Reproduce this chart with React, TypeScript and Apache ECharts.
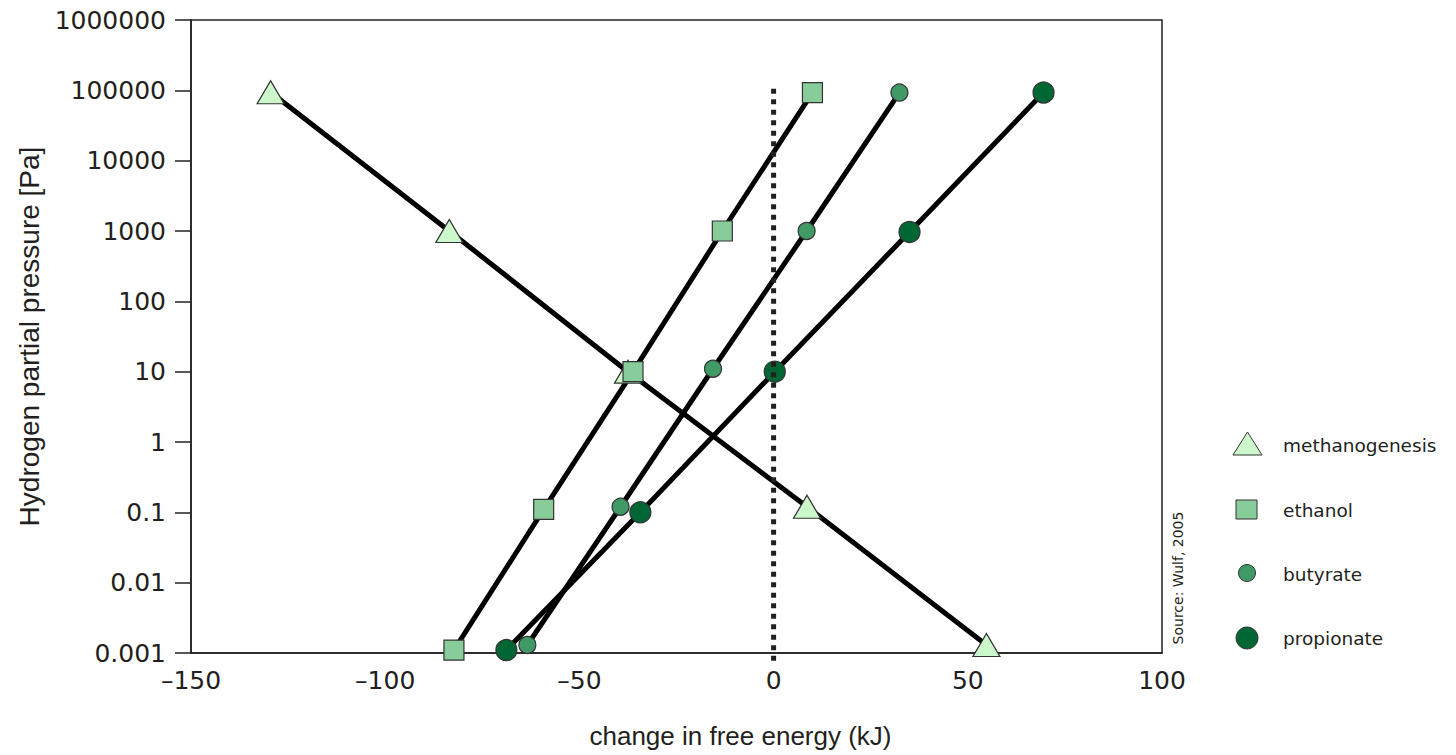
import React, { useEffect, useRef } from "react";
import * as echarts from "echarts";

// ---- data ----
const seriesNames = ["methanogenesis", "ethanol", "butyrate", "propionate"];

const methanogenesisX = [-129.5, -83.5, -37.5, 8.6, 54.8];
const methanogenesisY = [94000, 1000, 10, 0.12, 0.0013];

const ethanolX = [10, -13.2, -36.2, -59.2, -82.3];
const ethanolY = [93000, 1000, 10, 0.11, 0.0011];

const butyrateX = [32.4, 8.5, -15.6, -39.4, -63.4];
const butyrateY = [93000, 1000, 11, 0.12, 0.0013];

const propionateX = [69.5, 35, 0.3, -34.3, -68.8];
const propionateY = [93000, 970, 10, 0.1, 0.0011];

// vertical dotted reference line at zero free energy
const zeroLineX = [0, 0];
const zeroLineY = [105000, 0.00074];

const xTickLabels = ["–150", "–100", "–50", "0", "50", "100"];
const yTickLabels = ["0.001", "0.01", "0.1", "1", "10", "100", "1000", "10000", "100000", "1000000"];

const seriesColors = ["#ccf8cc", "#88cc99", "#409a66", "#006633"];
const seriesSymbols = ["triangle", "rect", "circle", "circle"];
const seriesSymbolSizes: (number | number[])[] = [[27, 23], 20, 17, 21];

const xTitle = "change in free energy (kJ)";
const yTitle = "Hydrogen partial pressure [Pa]";
const sourceNote = "Source: Wulf, 2005";

const ink = "#231f20";
const tickFont = "DejaVu Sans";
const titleFont = "Liberation Sans";

function zip(xs: number[], ys: number[]) {
  return xs.map((x, i) => [x, ys[i]]);
}

export default function App() {
  const ref = useRef<HTMLDivElement>(null);

  useEffect(() => {
    if (!ref.current) return;
    const chart = echarts.init(ref.current, undefined, { renderer: "svg" });

    const xs = [methanogenesisX, ethanolX, butyrateX, propionateX];
    const ys = [methanogenesisY, ethanolY, butyrateY, propionateY];

    const dataSeries = seriesNames.map((name, i) => ({
      name,
      type: "line",
      data: zip(xs[i], ys[i]),
      symbol: seriesSymbols[i],
      symbolSize: seriesSymbolSizes[i],
      showSymbol: true,
      lineStyle: { color: "#000", width: 5 },
      itemStyle: { color: seriesColors[i], borderColor: "#333", borderWidth: 1.2 },
      z: 2,
      silent: true,
    }));

    // legend drawn as graphics (per-item icon sizes differ)
    const legendY = [445, 510, 574, 638];
    const legendIcons: any[] = [
      {
        type: "polygon",
        shape: { points: [[1233, 455], [1262, 455], [1247.5, 432]] },
        style: { fill: seriesColors[0], stroke: "#333", lineWidth: 1 },
      },
      {
        type: "rect",
        shape: { x: 1236, y: 500, width: 21, height: 19 },
        style: { fill: seriesColors[1], stroke: "#333", lineWidth: 1 },
      },
      {
        type: "circle",
        shape: { cx: 1247, cy: 573, r: 8.5 },
        style: { fill: seriesColors[2], stroke: "#333", lineWidth: 1 },
      },
      {
        type: "circle",
        shape: { cx: 1247, cy: 638, r: 11 },
        style: { fill: seriesColors[3], stroke: "#333", lineWidth: 1 },
      },
    ];
    const legendTexts = seriesNames.map((name, i) => ({
      type: "text",
      x: 1283,
      y: legendY[i],
      style: {
        text: name,
        fontSize: 18.5,
        fontFamily: tickFont,
        fill: ink,
        textAlign: "left",
        textVerticalAlign: "middle",
        align: "left",
        verticalAlign: "middle",
      },
    }));

    chart.setOption({
      animation: false,
      backgroundColor: "#fff",
      grid: {
        left: 191,
        right: 294,
        top: 20,
        bottom: 102,
        show: true,
        borderColor: ink,
        borderWidth: 1.5,
      },
      xAxis: {
        type: "value",
        min: -150,
        max: 100,
        interval: 50,
        name: xTitle,
        nameLocation: "middle",
        nameGap: 70,
        nameTextStyle: {
          fontFamily: titleFont,
          fontSize: 26,
          color: ink,
          padding: [0, 0, 0, 128],
        },
        axisLine: { show: true, onZero: false, lineStyle: { color: ink, width: 1.5 } },
        axisTick: { show: false },
        splitLine: { show: false },
        axisLabel: {
          margin: 15,
          fontFamily: tickFont,
          fontSize: 25,
          color: ink,
          formatter: (v: number) => xTickLabels[Math.round((v + 150) / 50)] ?? String(v),
        },
      },
      yAxis: {
        type: "log",
        logBase: 10,
        min: 0.001,
        max: 1000000,
        splitNumber: 9,
        name: yTitle,
        nameLocation: "middle",
        nameRotate: 90,
        nameGap: 148,
        nameTextStyle: { fontFamily: titleFont, fontSize: 28, color: ink },
        axisLine: { show: true, onZero: false, lineStyle: { color: ink, width: 1.5 } },
        axisTick: { show: true, inside: false, length: 16, lineStyle: { color: ink, width: 1.5 } },
        minorTick: { show: false },
        splitLine: { show: false },
        axisLabel: {
          margin: 25,
          fontFamily: tickFont,
          fontSize: 25,
          color: ink,
          formatter: (v: number) => yTickLabels[Math.round(Math.log10(v)) + 3] ?? String(v),
        },
      },
      series: [
        ...dataSeries,
        {
          name: "zero",
          type: "line",
          data: zip(zeroLineX, zeroLineY),
          symbol: "none",
          clip: false,
          lineStyle: { color: ink, width: 5, type: [5, 5.5] },
          z: 3,
          silent: true,
        },
      ],
      graphic: [
        ...legendIcons,
        ...legendTexts,
        {
          type: "text",
          x: 1178,
          y: 578,
          rotation: Math.PI / 2,
          style: {
            text: sourceNote,
            fontSize: 14,
            fontFamily: tickFont,
            fill: ink,
            textAlign: "center",
            textVerticalAlign: "middle",
            align: "center",
            verticalAlign: "middle",
          },
        },
      ],
    });

    return () => chart.dispose();
  }, []);

  return (
    <div
      ref={ref}
      style={{ position: "absolute", left: 0, top: 0, width: 1456, height: 755 }}
    />
  );
}
